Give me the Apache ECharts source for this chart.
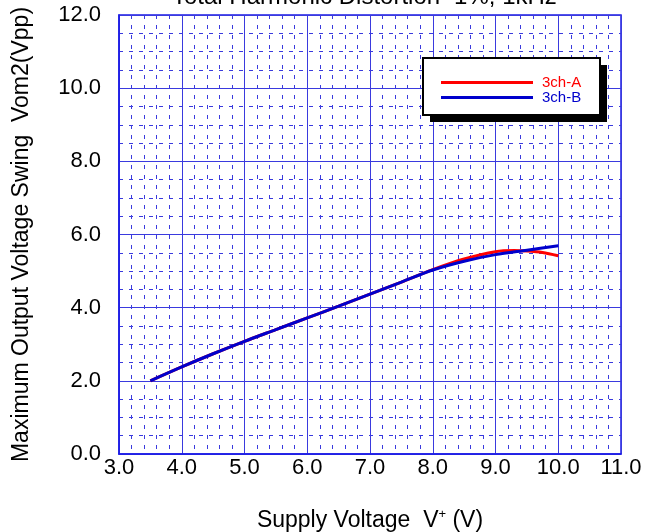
<!DOCTYPE html>
<html>
<head>
<meta charset="utf-8">
<script src="https://cdn.jsdelivr.net/npm/echarts@6/dist/echarts.min.js"></script>
<style>
  html, body { margin: 0; padding: 0; background: #fff; }
  #chart { width: 655px; height: 532px; }
</style>
</head>
<body>
<div id="chart"></div>
<script>
// supply voltage V+ (V) vs max output swing Vom2 (Vpp)
var supplyA = [3.5, 4.0, 4.5, 5.0, 5.5, 6.0, 6.5, 7.0, 7.5, 8.0, 8.5, 9.0, 9.3, 9.5, 9.75, 10.0];
var swingA  = [2.0, 2.38, 2.74, 3.08, 3.4, 3.72, 4.04, 4.37, 4.7, 5.04, 5.33, 5.53, 5.56, 5.55, 5.51, 5.42];
var supplyB = [3.5, 4.0, 4.5, 5.0, 5.5, 6.0, 6.5, 7.0, 7.5, 8.0, 8.5, 9.0, 9.5, 10.0];
var swingB  = [2.0, 2.38, 2.74, 3.08, 3.4, 3.72, 4.04, 4.37, 4.7, 5.03, 5.27, 5.45, 5.57, 5.69];
var seriesNames = ['3ch-A', '3ch-B'];
var seriesColors = ['#ff0000', '#0000cc'];

function pairs(xs, ys) {
  var out = [];
  for (var i = 0; i < xs.length; i++) out.push([xs[i], ys[i]]);
  return out;
}

var blue = '#3a3ade';
var font = '"Liberation Sans", Arial, sans-serif';

var chart = echarts.init(document.getElementById('chart'));
var option = {
  animation: false,
  title: {
    text: 'Total Harmonic Distortion=1%, 1kHz',
    left: 172,
    top: -15,
    padding: 0,
    textStyle: { fontFamily: font, fontSize: 24, fontWeight: 'normal', color: '#000' }
  },
  grid: {
    left: 119, right: 34, top: 15, bottom: 78,
    outerBoundsMode: 'none',
    show: true, borderColor: '#1a1ae6', borderWidth: 1.5, backgroundColor: '#fff'
  },
  legend: {
    orient: 'vertical',
    left: 441, top: 75,
    itemWidth: 92, itemHeight: 3, itemGap: 0,
    icon: 'rect',
    padding: 0,
    z: 20,
    textStyle: { fontFamily: font, fontSize: 15, lineHeight: 13, padding: [0, 0, 0, 4] },
    data: [
      { name: seriesNames[0], textStyle: { color: seriesColors[0] } },
      { name: seriesNames[1], textStyle: { color: seriesColors[1] } }
    ]
  },
  graphic: [
    { type: 'rect', z: 15, shape: { x: 430, y: 65, width: 177, height: 57 }, style: { fill: '#000' } },
    { type: 'rect', z: 16, shape: { x: 423, y: 58, width: 177, height: 57 }, style: { fill: '#fff', stroke: '#000', lineWidth: 2 } }
  ],
  xAxis: {
    type: 'value', min: 3, max: 11, interval: 1,
    name: 'Supply Voltage  V{sup|+} (V)',
    nameLocation: 'middle', nameGap: 54,
    nameTextStyle: { fontFamily: font, fontSize: 23, color: '#000', rich: { sup: { fontSize: 13, verticalAlign: 'top', padding: [0, 0, 12, 0], fontFamily: font } } },
    axisLine: { show: true, lineStyle: { color: '#1a1ae6', width: 1.5 } },
    axisTick: { show: false },
    axisLabel: { fontFamily: font, fontSize: 22, color: '#000', margin: 3, formatter: function (v) { return v.toFixed(1); } },
    splitLine: { show: true, lineStyle: { color: blue, width: 1 } },
    minorTick: { show: false, splitNumber: 5 },
    minorSplitLine: { show: true, lineStyle: { color: blue, width: 1, type: [4, 6] } }
  },
  yAxis: {
    type: 'value', min: 0, max: 12, interval: 2,
    name: 'Maximum Output Voltage Swing  Vom2(Vpp)',
    nameLocation: 'middle', nameGap: 86,
    nameTextStyle: { fontFamily: font, fontSize: 23, color: '#000' },
    axisLine: { show: true, lineStyle: { color: '#1a1ae6', width: 1.5 } },
    axisTick: { show: false },
    axisLabel: { fontFamily: font, fontSize: 22, color: '#000', margin: 18, formatter: function (v) { return v.toFixed(1); } },
    splitLine: { show: true, lineStyle: { color: blue, width: 1 } },
    minorTick: { show: false, splitNumber: 4 },
    minorSplitLine: { show: true, lineStyle: { color: blue, width: 1, type: [4, 6] } }
  },
  series: [
    {
      name: seriesNames[0], type: 'line', data: pairs(supplyA, swingA),
      showSymbol: false, smooth: 0.3, z: 5,
      lineStyle: { color: seriesColors[0], width: 3 }, itemStyle: { color: seriesColors[0] }
    },
    {
      name: seriesNames[1], type: 'line', data: pairs(supplyB, swingB),
      showSymbol: false, smooth: 0.3, z: 6,
      lineStyle: { color: seriesColors[1], width: 3 }, itemStyle: { color: seriesColors[1] }
    }
  ]
};
chart.setOption(option);
</script>
</body>
</html>
